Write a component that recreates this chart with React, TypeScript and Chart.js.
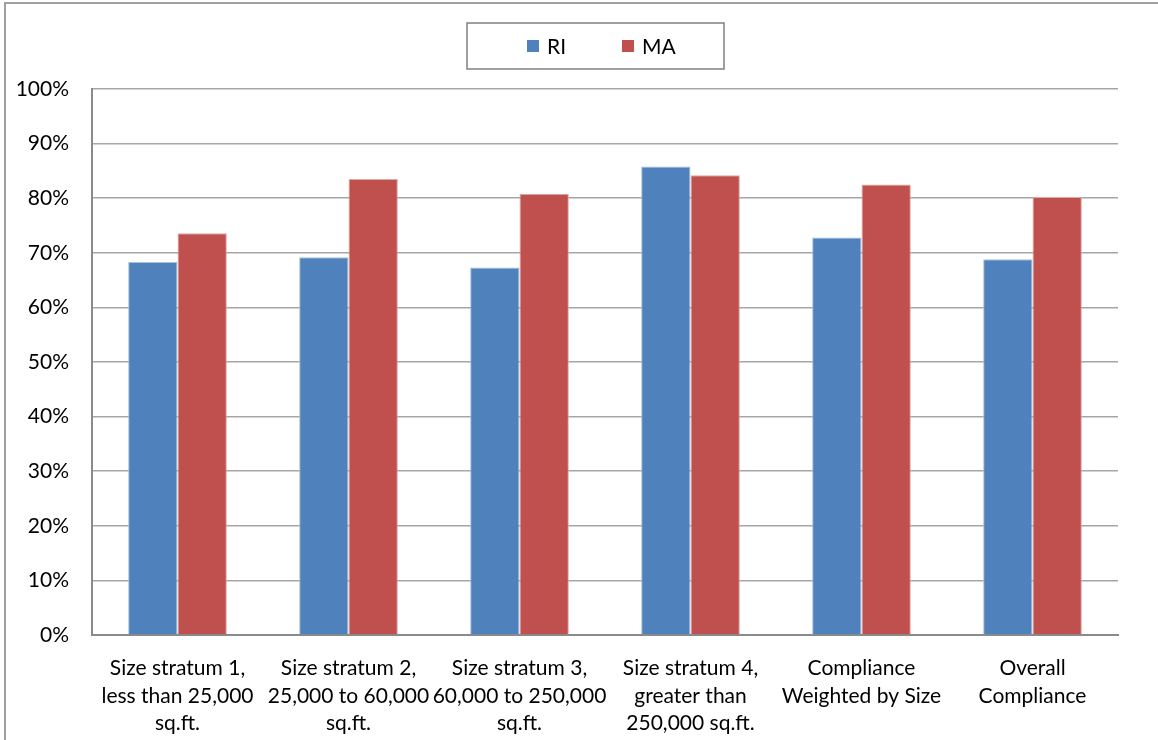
import React, { useEffect, useRef } from "react";
import { Chart, registerables } from "chart.js";

Chart.register(...registerables);

const categories: string[][] = [
  ["Size stratum 1,", "less than 25,000", "sq.ft."],
  ["Size stratum 2,", "25,000 to 60,000", "sq.ft."],
  ["Size stratum 3,", "60,000 to 250,000", "sq.ft."],
  ["Size stratum 4,", "greater than", "250,000 sq.ft."],
  ["Compliance", "Weighted by Size"],
  ["Overall", "Compliance"],
];

const riValues = [0.683, 0.692, 0.673, 0.858, 0.728, 0.688];
const maValues = [0.736, 0.835, 0.808, 0.842, 0.825, 0.802];

const seriesNames = ["RI", "MA"];
const seriesColors = ["#4F81BD", "#C0504D"];
const seriesEdges = ["#a9c0de", "#e0a9a7"];

const FONT = "Lato, 'Open Sans', sans-serif";

// Outer frame of the chart object (top and left edges)
const framePlugin = {
  id: "frame",
  beforeDraw(chart: Chart) {
    const ctx = chart.ctx;
    ctx.save();
    ctx.fillStyle = "#ffffff";
    ctx.fillRect(0, 0, chart.width, chart.height);
    ctx.strokeStyle = "#a0a0a0";
    ctx.lineWidth = 2;
    ctx.beginPath();
    ctx.moveTo(5, chart.height);
    ctx.lineTo(5, 3);
    ctx.lineTo(chart.width, 3);
    ctx.stroke();
    ctx.restore();
  },
};

// Boxed legend above the plot
const boxLegendPlugin = {
  id: "boxLegend",
  afterDraw(chart: Chart) {
    const ctx = chart.ctx;
    ctx.save();
    const bx = 467, by = 23, bw = 257, bh = 46;
    ctx.fillStyle = "#ffffff";
    ctx.fillRect(bx, by, bw, bh);
    ctx.strokeStyle = "#808080";
    ctx.lineWidth = 1.5;
    ctx.strokeRect(bx, by, bw, bh);
    ctx.font = `21px ${FONT}`;
    ctx.textBaseline = "middle";
    ctx.textAlign = "left";
    const cy = by + bh / 2;
    const starts = [527, 622];
    chart.data.datasets.forEach((ds: any, i: number) => {
      const x = starts[i];
      ctx.fillStyle = ds.backgroundColor as string;
      ctx.fillRect(x, cy - 6, 12, 12);
      ctx.fillStyle = "#000000";
      ctx.fillText(ds.label, x + 20, cy + 1);
    });
    ctx.restore();
  },
};

export default function App() {
  const canvasRef = useRef<HTMLCanvasElement | null>(null);

  useEffect(() => {
    if (!canvasRef.current) return;
    const chart = new Chart(canvasRef.current, {
      type: "bar",
      data: {
        labels: categories,
        datasets: [riValues, maValues].map((vals, i) => ({
          label: seriesNames[i],
          data: vals,
          backgroundColor: seriesColors[i],
          borderColor: seriesEdges[i],
          borderWidth: 1,
          categoryPercentage: 0.577,
          barPercentage: 1.0,
        })),
      },
      options: {
        animation: false,
        responsive: false,
        maintainAspectRatio: false,
        layout: { padding: { top: 89, right: 40, left: 0, bottom: 0 } },
        plugins: {
          legend: { display: false },
          tooltip: { enabled: false },
        },
        scales: {
          x: {
            grid: { display: false, drawTicks: false },
            border: { color: "#8a8a8a", width: 2 },
            ticks: {
              color: "#000000",
              font: { family: FONT, size: 21, lineHeight: 1.3 },
              padding: 20,
              maxRotation: 0,
              autoSkip: false,
            },
            afterFit(scale: any) {
              scale.height = 105;
            },
          },
          y: {
            min: 0,
            max: 1,
            grid: { color: "#a6a6a6", lineWidth: 1.5, drawTicks: false },
            border: { color: "#8a8a8a", width: 2 },
            ticks: {
              stepSize: 0.1,
              color: "#000000",
              font: { family: FONT, size: 21 },
              padding: 23,
              callback: (v: any) => `${Math.round(Number(v) * 100)}%`,
            },
            afterFit(scale: any) {
              scale.width = 92;
            },
          },
        },
      },
      plugins: [framePlugin, boxLegendPlugin],
    });
    return () => chart.destroy();
  }, []);

  return (
    <div style={{ position: "fixed", left: 0, top: 0, width: 1158, height: 740, background: "#fff" }}>
      <canvas ref={canvasRef} width={1158} height={740} style={{ width: 1158, height: 740 }} />
    </div>
  );
}
